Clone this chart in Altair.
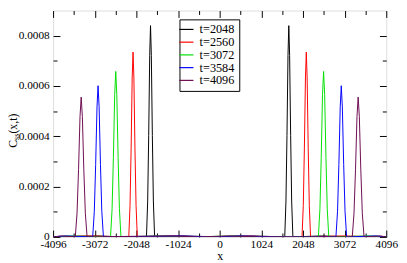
import altair as alt
import pandas as pd

# ---- data ----
labels = ["t=2048", "t=2560", "t=3072", "t=3584", "t=4096"]
colors = ["#000000", "#ff0000", "#00e000", "#0000ff", "#6d0a4f"]

x_2048 = [-4096, -3000, -2400, -1800, -1770, -1745, -1720, -1700, -1680, -1655, -1630, -1600,
          -900, 0, 800, 1600, 1630, 1655, 1680, 1700, 1720, 1745, 1770, 1800, 2500, 3300, 4096]
c_2048 = [0, 0.000004, 0, 0, 0.000143, 0.000403, 0.000722, 0.00084, 0.000722, 0.000403, 0.000143, 0,
          0.000004, 0, 0.000004, 0, 0.000143, 0.000403, 0.000722, 0.00084, 0.000722, 0.000403, 0.000143, 0, 0.000004, 0, 0]

x_2560 = [-4096, -3300, -2235, -2204, -2177, -2151, -2130, -2109, -2083, -2056, -2025,
          -1200, -300, 600, 1300, 2025, 2056, 2083, 2109, 2130, 2151, 2177, 2204, 2235, 3000, 4096]
c_2560 = [0, 0.000004, 0, 0.000125, 0.000353, 0.000632, 0.000735, 0.000632, 0.000353, 0.000125, 0,
          0.000004, 0, 0.000004, 0, 0, 0.000125, 0.000353, 0.000632, 0.000735, 0.000632, 0.000353, 0.000125, 0, 0.000004, 0]

x_3072 = [-4096, -3700, -2683, -2645, -2613, -2581, -2555, -2529, -2497, -2465, -2427,
          -1500, -600, 300, 1100, 2427, 2465, 2497, 2529, 2555, 2581, 2613, 2645, 2683, 3700, 4096]
c_3072 = [0, 0.000004, 0, 0.000112, 0.000316, 0.000566, 0.000658, 0.000566, 0.000316, 0.000112, 0,
          0.000004, 0, 0.000004, 0, 0, 0.000112, 0.000316, 0.000566, 0.000658, 0.000566, 0.000316, 0.000112, 0, 0.000004, 0]

x_3584 = [-4096, -3800, -3122, -3082, -3049, -3016, -2990, -2964, -2931, -2898, -2858,
          -1000, -200, 500, 1400, 2858, 2898, 2931, 2964, 2990, 3016, 3049, 3082, 3122, 3850, 4096]
c_3584 = [0, 0.000004, 0, 0.000102, 0.000288, 0.000517, 0.000601, 0.000517, 0.000288, 0.000102, 0,
          0.000004, 0, 0.000004, 0, 0, 0.000102, 0.000288, 0.000517, 0.000601, 0.000517, 0.000288, 0.000102, 0, 0.000004, 0]

x_4096 = [-4096, -3900, -3550, -3507, -3470, -3434, -3405, -3376, -3340, -3303, -3260,
          -1300, -500, 200, 1000, 3260, 3303, 3340, 3376, 3405, 3434, 3470, 3507, 3550, 3950, 4096]
c_4096 = [0, 0.000004, 0, 0.0000945, 0.000267, 0.000478, 0.000556, 0.000478, 0.000267, 0.0000945, 0,
          0.000004, 0, 0.000004, 0, 0, 0.0000945, 0.000267, 0.000478, 0.000556, 0.000478, 0.000267, 0.0000945, 0, 0.000004, 0]

major_x = [-4096, -3072, -2048, -1024, 0, 1024, 2048, 3072, 4096]
minor_x = [-3584, -2560, -1536, -512, 512, 1536, 2560, 3584]
major_y = [0, 0.0002, 0.0004, 0.0006, 0.0008]
minor_y = [0.0001, 0.0003, 0.0005, 0.0007]

# y-axis title pieces: C, subscript ss, (x,t)
title_parts = ["C", "ss", "(x,t)"]

# ---- table ----
series = [(labels[0], x_2048, c_2048), (labels[1], x_2560, c_2560), (labels[2], x_3072, c_3072),
          (labels[3], x_3584, c_3584), (labels[4], x_4096, c_4096)]
rows = []
for lab, xs_, cs_ in series:
    for a, b in zip(xs_, cs_):
        rows.append({"t": lab, "x": a, "C": b})
df = pd.DataFrame(rows)

W, H = 340, 231
FONT = "Times New Roman"
xscale = alt.Scale(domain=[-4096, 4096], nice=False, zero=False)
yscale = alt.Scale(domain=[0, 0.0009], nice=False)

lines = alt.Chart(df).mark_line(strokeWidth=1, clip=True).encode(
    x=alt.X("x:Q", scale=xscale,
            axis=alt.Axis(title="x", values=major_x, ticks=False, domain=False, grid=False,
                          labelExpr="'' + datum.value", labelFont=FONT, labelFontSize=11.5,
                          labelColor="black", labelPadding=2, labelFlush=False,
                          titleFont=FONT, titleFontSize=12, titleFontWeight="normal",
                          titleColor="black", titlePadding=1)),
    y=alt.Y("C:Q", scale=yscale,
            axis=alt.Axis(title=None, values=major_y, ticks=False, domain=False, grid=False,
                          labelExpr="datum.value == 0 ? '0' : format(datum.value, '.4f')",
                          labelFont=FONT, labelFontSize=11.5, labelColor="black", labelPadding=4,
                          labelFlush=False)),
    color=alt.Color("t:N", scale=alt.Scale(domain=labels, range=colors),
                    legend=alt.Legend(title=None, orient="none", legendX=129, legendY=9,
                                      strokeColor="black", fillColor="white", padding=4,
                                      symbolType="M-2.6,0H1", symbolSize=64, symbolStrokeWidth=1.2,
                                      symbolFillColor="transparent",
                                      labelFont=FONT, labelFontSize=12.5, labelColor="black",
                                      labelOffset=4, rowPadding=0)),
    order="x:Q",
)

# rotated y title built from pieces (main letter, subscript, argument)
t_C = alt.Chart().mark_text(text=title_parts[0], angle=270, align="left", baseline="alphabetic",
                            font=FONT, fontSize=12, color="black").encode(
    x=alt.value(-37), y=alt.value(140))
t_ss = alt.Chart().mark_text(text=title_parts[1], angle=270, align="left", baseline="alphabetic",
                             font=FONT, fontSize=8, color="black").encode(
    x=alt.value(-34.5), y=alt.value(132))
t_arg = alt.Chart().mark_text(text=title_parts[2], angle=270, align="left", baseline="alphabetic",
                              font=FONT, fontSize=12, color="black").encode(
    x=alt.value(-37), y=alt.value(125.5))


def tick_layer(orient_x, orient_y, xvals, yvals, size):
    return alt.Chart(df).mark_point(opacity=0).encode(
        x=alt.X("x:Q", scale=xscale,
                axis=alt.Axis(orient=orient_x, offset=-H, values=xvals, labels=False,
                              domain=False, grid=False, tickSize=size, tickColor="black",
                              tickWidth=1, title=None)),
        y=alt.Y("C:Q", scale=yscale,
                axis=alt.Axis(orient=orient_y, offset=-W, values=yvals, labels=False,
                              domain=False, grid=False, tickSize=size, tickColor="black",
                              tickWidth=1, title=None)),
    )


ticks_a = tick_layer("top", "right", major_x, major_y, 7)
ticks_b = tick_layer("top", "right", minor_x, minor_y, 4)
ticks_c = tick_layer("bottom", "left", major_x, major_y, 7)
ticks_d = tick_layer("bottom", "left", minor_x, minor_y, 4)

chart = alt.layer(lines, ticks_a, ticks_b, ticks_c, ticks_d, t_C, t_ss, t_arg).resolve_scale(
    x="independent", y="independent"
).properties(
    width=W, height=H,
    autosize=alt.AutoSizeParams(type="none"),
    padding={"left": 46, "top": 0, "right": 13, "bottom": 24},
).configure_view(stroke="black", strokeWidth=1.2).configure(background="white", font=FONT)

chart.save("out.html", embed_options={"renderer": "svg", "actions": False})
